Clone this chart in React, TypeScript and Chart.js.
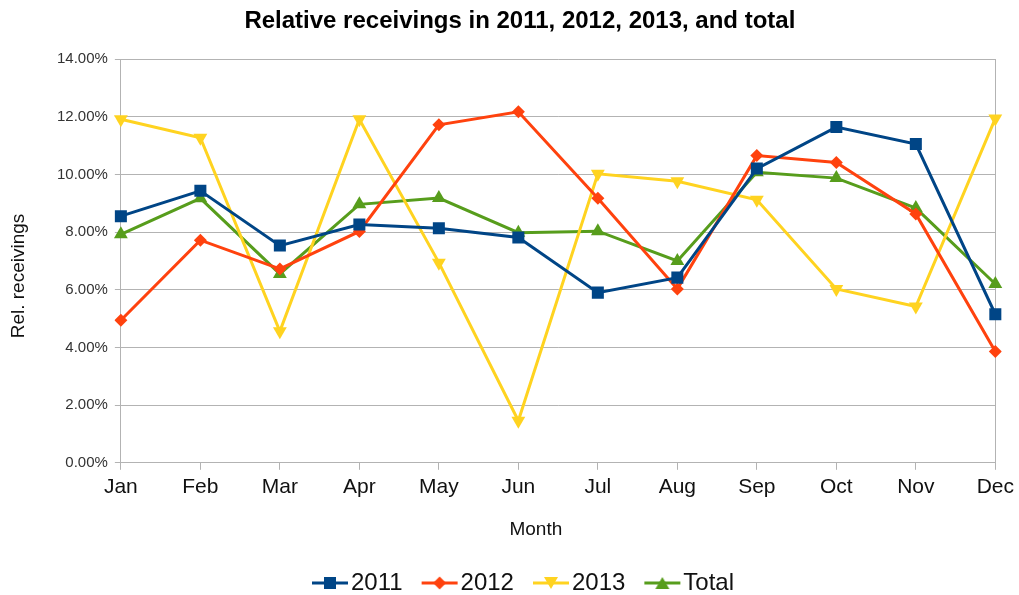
import React, { useEffect, useRef } from 'react';
import { Chart, registerables } from 'chart.js';

Chart.register(...registerables);

const months = ['Jan', 'Feb', 'Mar', 'Apr', 'May', 'Jun', 'Jul', 'Aug', 'Sep', 'Oct', 'Nov', 'Dec'];
const series2011 = [8.55, 9.43, 7.53, 8.26, 8.13, 7.81, 5.9, 6.42, 10.2, 11.64, 11.05, 5.15];
const series2012 = [4.94, 7.72, 6.72, 8.02, 11.72, 12.17, 9.17, 6.03, 10.65, 10.41, 8.63, 3.86];
const series2013 = [11.91, 11.27, 4.56, 11.91, 6.94, 1.46, 10.02, 9.76, 9.12, 6.03, 5.42, 11.94];
const seriesTotal = [7.92, 9.17, 6.55, 8.96, 9.18, 7.98, 8.03, 7.0, 10.07, 9.87, 8.83, 6.2];
const seriesNames = ['2011', '2012', '2013', 'Total'];
const seriesColors = ['#004586', '#ff420e', '#ffd320', '#579d1c'];
const yMin = 0;
const yMax = 14;
const yStep = 2;
const chartTitle = 'Relative receivings in 2011, 2012, 2013, and total';
const xAxisTitle = 'Month';
const yAxisTitle = 'Rel. receivings';

const FONT = '"Liberation Sans", Arial, sans-serif';

function drawMarker(ctx: CanvasRenderingContext2D, kind: number, x: number, y: number, color: string) {
  ctx.fillStyle = color;
  ctx.beginPath();
  if (kind === 0) {
    ctx.rect(x - 6, y - 6, 12, 12);
  } else if (kind === 1) {
    ctx.moveTo(x - 6.5, y);
    ctx.lineTo(x, y - 6.5);
    ctx.lineTo(x + 6.5, y);
    ctx.lineTo(x, y + 6.5);
  } else if (kind === 2) {
    ctx.moveTo(x - 7, y - 6);
    ctx.lineTo(x + 7, y - 6);
    ctx.lineTo(x, y + 6);
  } else {
    ctx.moveTo(x - 7, y + 6);
    ctx.lineTo(x + 7, y + 6);
    ctx.lineTo(x, y - 6);
  }
  ctx.closePath();
  ctx.fill();
}

function makeLegendImage(kind: number, color: string) {
  const c = document.createElement('canvas');
  c.width = 38;
  c.height = 20;
  const ctx = c.getContext('2d') as CanvasRenderingContext2D;
  if (kind < 0) return c;
  ctx.strokeStyle = color;
  ctx.lineWidth = 3;
  ctx.beginPath();
  ctx.moveTo(1, 10);
  ctx.lineTo(37, 10);
  ctx.stroke();
  drawMarker(ctx, kind, 19, 10, color);
  return c;
}

const titlesPlugin = {
  id: 'chartTitles',
  afterDraw(chart: any) {
    const ctx: CanvasRenderingContext2D = chart.ctx;
    const area = chart.chartArea;
    ctx.save();
    ctx.textAlign = 'center';
    ctx.textBaseline = 'alphabetic';
    // main title
    ctx.fillStyle = '#000';
    ctx.font = `bold 24px ${FONT}`;
    ctx.fillText(chartTitle, area.left + 399, 28);
    // x axis title
    ctx.fillStyle = '#111';
    ctx.font = `19px ${FONT}`;
    ctx.fillText(xAxisTitle, area.left + 415, area.bottom + 72);
    // y axis title
    ctx.translate(24, area.top + 217);
    ctx.rotate(-Math.PI / 2);
    ctx.fillText(yAxisTitle, 0, 0);
    ctx.restore();
  },
};

export default function App() {
  const ref = useRef<HTMLCanvasElement>(null);

  useEffect(() => {
    document.body.style.margin = '0';
    const canvas = ref.current;
    if (!canvas) return;
    const legendImages = seriesColors.map((c, i) => makeLegendImage(i, c));
    const spacerImage = makeLegendImage(-1, '#fff');
    const allSeries = [series2011, series2012, series2013, seriesTotal];
    const pointStyles = ['rect', 'rectRot', 'triangle', 'triangle'];
    const radii = [8.5, 6.5, 8, 8];
    const rotations = [0, 0, 180, 0];

    const chart = new Chart(canvas, {
      type: 'line',
      plugins: [titlesPlugin],
      data: {
        labels: months,
        datasets: allSeries.map((s, i) => ({
          label: seriesNames[i],
          data: s,
          borderColor: seriesColors[i],
          backgroundColor: seriesColors[i],
          borderWidth: 3,
          pointStyle: pointStyles[i] as any,
          pointRadius: radii[i],
          pointRotation: rotations[i],
          pointBorderWidth: 0,
          pointBackgroundColor: seriesColors[i],
          tension: 0,
        })),
      },
      options: {
        responsive: false,
        animation: false,
        events: [],
        layout: { padding: { left: 0, right: 22, top: 59, bottom: -10 } },
        plugins: {
          title: { display: false },
          legend: {
            display: true,
            position: 'bottom',
            labels: {
              usePointStyle: true,
              pointStyleWidth: 18,
              padding: 28,
              color: '#111',
              font: { family: FONT, size: 24 },
              generateLabels: (ch: any) => [
                {
                  text: '',
                  pointStyle: spacerImage,
                  fillStyle: 'rgba(0,0,0,0)',
                  strokeStyle: 'rgba(0,0,0,0)',
                  lineWidth: 0,
                  hidden: false,
                  fontColor: '#111',
                },
                ...ch.data.datasets.map((ds: any, i: number) => ({
                  text: ds.label,
                  pointStyle: legendImages[i],
                  fillStyle: seriesColors[i],
                  strokeStyle: seriesColors[i],
                  lineWidth: 0,
                  hidden: false,
                  datasetIndex: i,
                  fontColor: '#111',
                })),
              ],
            },
          },
          tooltip: { enabled: false },
        },
        scales: {
          x: {
            offset: false,
            afterFit: (scale: any) => {
              scale.height += 38;
            },
            grid: {
              color: (c: any) => (c.index === months.length - 1 ? '#b3b3b3' : 'rgba(0,0,0,0)'),
              tickColor: '#b3b3b3',
              tickLength: 7,
              lineWidth: 1,
            },
            border: { display: true, color: '#b3b3b3', width: 1 },
            ticks: {
              color: '#111',
              font: { family: FONT, size: 21 },
              padding: 5,
              maxRotation: 0,
              autoSkip: false,
            },
          },
          y: {
            min: yMin,
            max: yMax,
            afterFit: (scale: any) => {
              scale.width += 50;
            },
            grid: {
              color: '#b3b3b3',
              tickColor: '#b3b3b3',
              tickLength: 6,
              lineWidth: 1,
            },
            border: { display: true, color: '#b3b3b3', width: 1 },
            ticks: {
              stepSize: yStep,
              color: '#333',
              font: { family: FONT, size: 15 },
              padding: 7,
              callback: (v: any) => Number(v).toFixed(2) + '%',
            },
          },
        },
      },
    });
    return () => chart.destroy();
  }, []);

  return (
    <div style={{ width: 1019, height: 595, background: '#fff' }}>
      <canvas ref={ref} width={1019} height={595} style={{ display: 'block' }} />
    </div>
  );
}
